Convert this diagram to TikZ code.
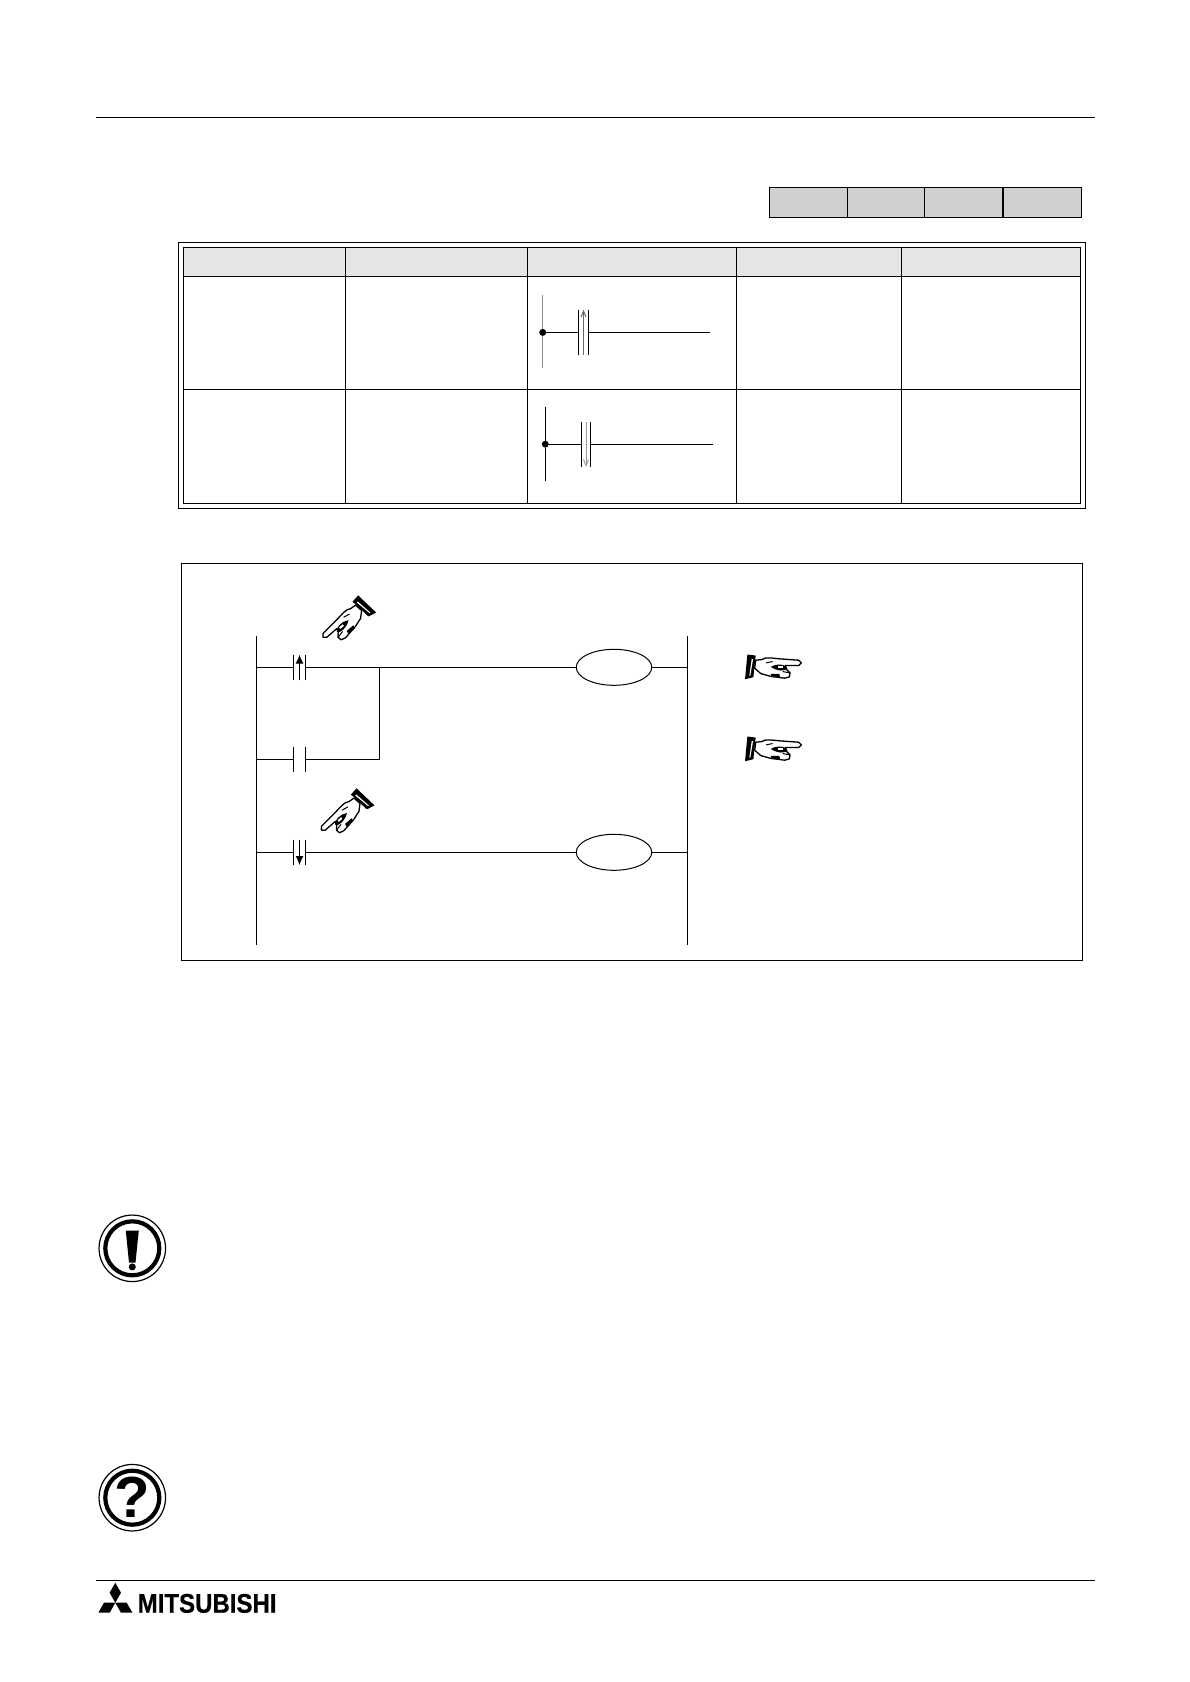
\documentclass[tikz,border=0pt]{standalone}
\usepackage{fontspec}
\usepackage{tikz}
\usetikzlibrary{positioning, arrows.meta, shapes.geometric}
\newfontfamily\logofont{Liberation Sans}[BoldFeatures={FakeBold=0.5}]
\newfontfamily\askfont{Liberation Sans}
\definecolor{bargrey}{HTML}{D0D0D0}
\definecolor{headgrey}{HTML}{E5E5E5}
\tikzset{
page/.style={line width=1pt},
rail/.style={line width=1.2pt},
wire/.style={line width=1pt},
frame/.style={line width=1pt},
cell/.style={line width=1.1pt},
contact/.style={rectangle, minimum width=12.4pt, minimum height=25pt, inner sep=0pt},
smallcontact/.style={rectangle, minimum width=8.8pt, minimum height=45pt, inner sep=0pt},
coil/.style={ellipse, draw, line width=1pt, minimum width=75.5pt, minimum height=36pt, inner sep=0pt},
junction/.style={circle, fill=black, minimum size=7pt, inner sep=0pt},
ring/.style={circle, draw, inner sep=0pt},
hand/.pic={
\begin{scope}[scale=1/3, shift={(-32,-62)}]
\fill (22,27) -- (47,30) -- (40,95) -- (15,101) -- cycle;
\fill[white] (35,40) -- (39,41) -- (31,90) -- (28,90) -- cycle;
\draw[line width=1.3pt, line join=round, fill=white] (47,44) -- (66,42) .. controls (72,34) and (100,38) .. (120,40)
  -- (176,44) -- (184,52) -- (176,60) -- (136,60) -- (140,72) -- (150,82) -- (148,94) -- (134,98) -- (90,92) -- (62,84) -- (44,68) -- cycle;
\fill (92,64) .. controls (110,52) and (138,56) .. (142,68) .. controls (138,78) and (112,78) .. cycle;
\fill[white] (114,62) -- (128,62) -- (128,68) -- (114,68) -- cycle;
\fill (92,85) -- (118,85) -- (120,95) -- (94,95) -- cycle;
\draw[line width=1pt] (128,78) -- (148,82);
\draw[line width=1pt] (78,52) -- (98,48);
\end{scope}
}}

\begin{document}
\begin{tikzpicture}[x=1pt,y=-1pt]
\useasboundingbox (0,0) rectangle (1190,1682);
% page rules
\coordinate (topL) at (96,117);
\coordinate (topR) at (1095,117);
\coordinate (botL) at (96,1580);
\coordinate (botR) at (1095,1580);
\draw[page] (topL) -- (topR);
\draw[page] (botL) -- (botR);
% grey bar
\draw[fill=bargrey, cell] (769.5,187.3) rectangle (1081.7,217.7);
\draw[cell] (847.5,187.3) -- (847.5,217.7)
(924.8,187.3) -- (924.8,217.7)
(1003,187.3) -- (1003,217.7);
% table
\draw[frame] (178,242) rectangle (1085.5,508.7);
\fill[headgrey] (183.5,247.5) rectangle (1080.6,276.5);
\draw[cell] (183.5,247.5) rectangle (1080.6,503.3);
\draw[cell] (183.5,276.5) -- (1080.6,276.5)
(183.5,389.3) -- (1080.6,389.3)
(345.3,247.5) -- (345.3,503.3)
(527.6,247.5) -- (527.6,503.3)
(736.3,247.5) -- (736.3,503.3)
(901.4,247.5) -- (901.4,503.3);
% small contacts in the table
\node[junction] (dotA) at (542.7,332.4) {};
\node[junction] (dotB) at (545.3,444.2) {};
\node[smallcontact] (kA) at (583.5,332.4) {};
\node[smallcontact] (kB) at (586,444.2) {};
\coordinate (endA) at (710,332.4);
\coordinate (endB) at (713,444.2);
\draw[line width=1.1pt, black!45] (542.7,295) -- (dotA) -- (542.7,368.3);
\draw[wire] (545.3,406.7) -- (dotB) -- (545.3,480.7);
\draw[wire] (dotA) -- (kA.west) (kA.east) -- (endA);
\draw[wire] (dotB) -- (kB.west) (kB.east) -- (endB);
\draw[line width=1pt, black!60, -{Straight Barb[length=6pt,width=5pt]}] (kA.south) -- (kA.north);
\draw[line width=1pt, black!40, -{Straight Barb[length=6pt,width=5pt]}] (kB.north) -- (kB.south);
\foreach \k in {kA,kB}
  \draw[wire] (\k.north west) -- (\k.south west) (\k.north east) -- (\k.south east);
% ladder box
\draw[frame] (181.4,563.4) rectangle (1082.8,960.4);
\coordinate (railLt) at (256.3,636);
\coordinate (railLb) at (256.3,944.6);
\coordinate (railRt) at (687.8,636);
\coordinate (railRb) at (687.8,944.6);
\draw[rail] (railLt) -- (railLb);
\draw[rail] (railRt) -- (railRb);
\coordinate (inA) at (256.3,667.3);
\coordinate (inB) at (256.3,759.3);
\coordinate (inC) at (256.3,852.3);
\coordinate (outA) at (687.8,667.3);
\coordinate (outC) at (687.8,852.3);
\node[contact] (c1) at (299.5,667.3) {};
\node[contact] (c2) at (299.5,759.3) {};
\node[contact] (c3) at (299.5,852.3) {};
\node[coil] (coilA) at (614,667.3) {};
\node[coil] (coilB) at (614,852.3) {};
\coordinate (tie) at (379.3,667.3);
\coordinate (tieB) at (379.3,759.3);
\draw[wire]
(inA) -- (c1.west)
(c1.east) -- (coilA.west)
(coilA.east) -- (outA)
(inB) -- (c2.west)
(c2.east) -- (tieB) -- (tie)
(inC) -- (c3.west)
(c3.east) -- (coilB.west)
(coilB.east) -- (outC);
\foreach \k in {c1,c2,c3}
  \draw[wire] (\k.north west) -- (\k.south west) (\k.north east) -- (\k.south east);
\draw[wire, -{Latex[length=9pt,width=8pt]}] (c1.south) -- (c1.north);
\draw[wire, -{Latex[length=9pt,width=8pt]}] (c3.north) -- (c3.south);
% hands
\pic[rotate=-139, yscale=-1] at (363.3,606.4) {hand};
\pic[rotate=-139, yscale=-1] at (361.7,799.3) {hand};
\pic at (750.7,666.2) {hand};
\pic at (750.7,748.2) {hand};
% note icons
\node[ring, line width=1.2pt, minimum size=66.5pt] (warnOut) at (132.3,1248.3) {};
\node[ring, line width=4.2pt, minimum size=54pt] (warnIn) at (warnOut) {};
\fill (125.8,1230.5) -- (138.8,1230.5) -- (135.5,1262.5) -- (129,1262.5) -- cycle;
\node[circle, fill=black, minimum size=7pt, inner sep=0pt] (warnDot) at (132.3,1266.9) {};
\node[ring, line width=1.2pt, minimum size=66.5pt] (askOut) at (132.3,1497.7) {};
\node[ring, line width=4.2pt, minimum size=54pt] (askIn) at (askOut) {};
\node[inner sep=0pt, font=\askfont\bfseries\fontsize{58}{58}\selectfont] (askMark) at (132.3,1497.7) {?};
% logo
\fill (115.3,1582.7) -- (121,1592.7) -- (115.3,1602.7) -- (109.6,1592.7) -- cycle;
\fill (115.3,1602.7) -- (104,1602.7) -- (98.5,1612.5) -- (109.8,1612.5) -- cycle;
\fill (115.3,1602.7) -- (126.6,1602.7) -- (132.4,1612.5) -- (120.9,1612.5) -- cycle;
\node[anchor=base west, inner sep=0pt, font=\logofont\bfseries\fontsize{27}{27}\selectfont] (logoText) at (137.5,1612.7) {\scalebox{0.89}[1]{MITSUBISHI}};
\end{tikzpicture}
\end{document}
